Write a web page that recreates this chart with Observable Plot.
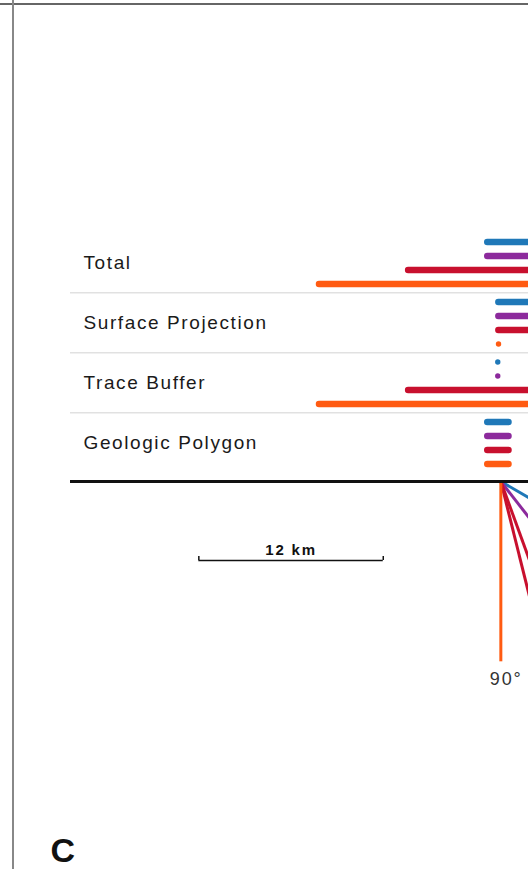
<!DOCTYPE html>
<html>
<head>
<meta charset="utf-8">
<script src="https://cdn.jsdelivr.net/npm/d3@7"></script>
<script src="https://cdn.jsdelivr.net/npm/@observablehq/plot@0.6"></script>
<style>
  html, body { margin: 0; padding: 0; background: #fff; overflow: hidden; }
  #fig { position: relative; width: 528px; height: 869px; background: #fff; }
  #fig svg { position: absolute; left: 0; top: 0; }
  .rule-h { position: absolute; left: 0; top: 3px; width: 528px; height: 2px; background: #666; }
  .rule-v { position: absolute; left: 12px; top: 0; width: 2px; height: 869px; background: #888; }
</style>
</head>
<body>
<div id="fig">
  <div class="rule-h"></div>
  <div class="rule-v"></div>
</div>
<script>
// Mapping methods (rows) and dip classes (coloured bars within a row)
const methods = ["Total", "Surface Projection", "Trace Buffer", "Geologic Polygon"];
const dipClasses = ["shallow", "moderate", "steep", "vertical"];
const dipColors = ["#1f78b8", "#8c2a9c", "#c8102e", "#ff5b12"];

// Zone extent across strike, km from the mapped trace, one value per dip class
const totalFrom   = [-0.85, -0.85, -6.0, -11.8];
const totalTo     = [20.8, 9.4, 6.0, 11.8];
const surfaceFrom = [-0.13, -0.13, -0.13, -0.15];
const surfaceTo   = [20.8, 9.4, 4.4, -0.15];
const bufferFrom  = [-0.2, -0.2, -6.0, -11.8];
const bufferTo    = [-0.2, -0.2, 6.0, 11.8];
const polygonFrom = [-0.85, -0.85, -0.85, -0.85];
const polygonTo   = [0.53, 0.53, 0.53, 0.53];

// Fault dips drawn in cross-section below the map rows
const fanClasses = ["shallow", "moderate", "steep", "steep", "vertical"];
const fanDips = [30, 52, 70, 76, 90];
const faultDepth = 11.7;   // km
const scaleBarKm = 12;

// ---- tables built from the arrays above ----
const extents = {
  "Total": [totalFrom, totalTo],
  "Surface Projection": [surfaceFrom, surfaceTo],
  "Trace Buffer": [bufferFrom, bufferTo],
  "Geologic Polygon": [polygonFrom, polygonTo]
};
const zones = methods.flatMap(m =>
  dipClasses.map((dip, i) => ({method: m, dip, from: extents[m][0][i], to: extents[m][1][i]}))
);
const fan = fanDips.map((dip, i) => ({cls: fanClasses[i], dip}));

// ---- layout ----
const W = 528, H = 869;
const FONT = "'Liberation Sans', Arial, Helvetica, sans-serif";
const kmDomain = [-28, 1.8];
const marginLeft = 70;
const pxPerKm = (W - marginLeft) / (kmDomain[1] - kmDomain[0]);
const rowsTop = 230.5, rowsBottom = 473.3, baseY = 481;
const rowStep = (rowsBottom - rowsTop) / methods.length;
const colorScale = {domain: dipClasses, range: dipColors};

// scale bar placement (km across, km down)
const scaleBarStart = -19.65, scaleBarDepth = 5.14;

const rows = Plot.plot({
  width: W,
  height: baseY + 1,
  marginTop: rowsTop,
  marginBottom: baseY + 1 - rowsBottom,
  marginLeft,
  marginRight: 0,
  style: {fontFamily: FONT, letterSpacing: "1.6px", background: "transparent"},
  x: {domain: kmDomain, axis: null},
  y: {domain: dipClasses, axis: null, padding: 0, insetTop: 8, insetBottom: 8},
  fy: {domain: methods, axis: null, padding: 0},
  color: colorScale,
  marks: [
    // separators under each row except the last
    Plot.ruleY(methods.slice(0, -1), {fy: d => d, y: null, dy: rowStep / 2, stroke: "#d2d2d2", strokeWidth: 1}),
    Plot.ruleY(zones.filter(d => d.to > d.from), {
      fy: "method", y: "dip", x1: "from", x2: "to",
      stroke: "dip", strokeWidth: 6.5, strokeLinecap: "round"
    }),
    Plot.dot(zones.filter(d => d.to === d.from), {
      fy: "method", y: "dip", x: "from", r: 2.7, fill: "dip", stroke: null
    }),
    Plot.text(methods, {
      fy: d => d, text: d => d, frameAnchor: "left", dx: 13,
      textAnchor: "start", fontSize: 19, fill: "#1a1a1a"
    })
  ]
});

const section = Plot.plot({
  width: W,
  height: H,
  marginTop: baseY,
  marginBottom: 0,
  marginLeft,
  marginRight: 0,
  style: {fontFamily: FONT, letterSpacing: "1.8px", background: "transparent"},
  x: {domain: kmDomain, axis: null},
  // depth grows downward from the ground surface
  y: {domain: [0, (H - baseY) / pxPerKm], reverse: true, axis: null},
  color: colorScale,
  marks: [
    // fault traces in cross-section, vertical one on top
    Plot.link(fan, {
      x1: () => 0, y1: () => 0,
      x2: d => faultDepth / Math.tan(d.dip * Math.PI / 180), y2: () => faultDepth,
      stroke: "cls", strokeWidth: 3
    }),
    Plot.ruleY([0], {stroke: "#111", strokeWidth: 3}),
    Plot.text(["90°"], {x: () => 0, y: () => faultDepth, dx: -11, dy: 18, textAnchor: "start", fontSize: 18, fill: "#333"}),
    // scale bar
    Plot.ruleY([scaleBarDepth], {x1: () => scaleBarStart, x2: () => scaleBarStart + scaleBarKm, stroke: "#111", strokeWidth: 1.5}),
    Plot.ruleX([scaleBarStart, scaleBarStart + scaleBarKm], {y1: () => scaleBarDepth, y2: () => scaleBarDepth, insetTop: -4, stroke: "#111", strokeWidth: 1.5}),
    Plot.text([`${scaleBarKm} km`], {x: () => scaleBarStart + scaleBarKm / 2, y: () => scaleBarDepth, dy: -10.5, fontSize: 15, fontWeight: "bold", fill: "#111"}),
    // panel letter
    Plot.text(["C"], {frameAnchor: "bottom-left", dx: -20, dy: -8, lineAnchor: "bottom", textAnchor: "start", fontSize: 34, fontWeight: "bold", fill: "#111"})
  ]
});

const fig = document.getElementById("fig");
fig.appendChild(rows);
fig.appendChild(section);
</script>
</body>
</html>
